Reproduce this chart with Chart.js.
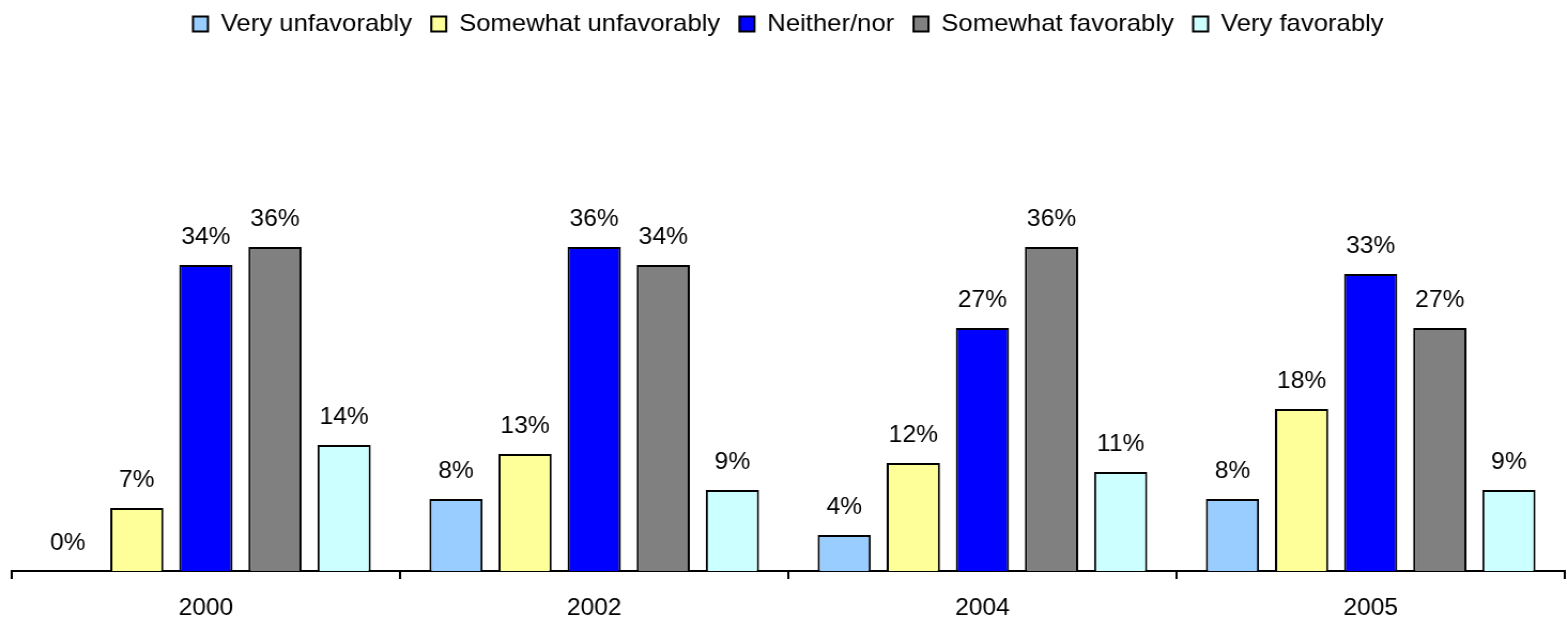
<!DOCTYPE html>
<html>
<head>
<meta charset="utf-8">
<script src="https://cdn.jsdelivr.net/npm/chart.js@4"></script>
<style>
  html, body { margin: 0; padding: 0; background: #fff; overflow: hidden; }
  /* the original chart is a bit wider than tall text would suggest, so stretch it sideways */
  #wrap { width: 1465px; height: 619px; position: relative; transform: scaleX(1.0696); transform-origin: 0 0; }
</style>
</head>
<body>
<div id="wrap"><canvas id="chart"></canvas></div>
<script>
const years = ['2000', '2002', '2004', '2005'];

const veryUnfavorably = [0, 8, 4, 8];
const somewhatUnfavorably = [7, 13, 12, 18];
const neitherNor = [34, 36, 27, 33];
const somewhatFavorably = [36, 34, 36, 27];
const veryFavorably = [14, 9, 11, 9];

const seriesNames = ['Very unfavorably', 'Somewhat unfavorably', 'Neither/nor', 'Somewhat favorably', 'Very favorably'];
const seriesColors = ['#99CCFF', '#FFFF99', '#0000FF', '#808080', '#CCFFFF'];

const FONT = '"Liberation Sans", Arial, sans-serif';

// push the plot area down below the legend
const legendSpace = {
  id: 'legendSpace',
  beforeInit(chart) {
    const fit = chart.legend.fit;
    chart.legend.fit = function () {
      fit.bind(chart.legend)();
      this.height = 217;
    };
  }
};

// value labels above each bar
const valueLabels = {
  id: 'valueLabels',
  afterDatasetsDraw(chart) {
    const ctx = chart.ctx;
    ctx.save();
    ctx.font = '23px ' + FONT;
    ctx.fillStyle = '#000';
    ctx.textAlign = 'center';
    ctx.textBaseline = 'alphabetic';
    chart.data.datasets.forEach((ds, i) => {
      chart.getDatasetMeta(i).data.forEach((bar, j) => {
        ctx.fillText(ds.data[j] + '%', bar.x, bar.y - 21);
      });
    });
    ctx.restore();
  }
};

const allSeries = [veryUnfavorably, somewhatUnfavorably, neitherNor, somewhatFavorably, veryFavorably];

new Chart(document.getElementById('chart'), {
  type: 'bar',
  data: {
    labels: years,
    datasets: allSeries.map((vals, i) => ({
      label: seriesNames[i],
      data: vals,
      backgroundColor: seriesColors[i],
      borderColor: '#000',
      borderWidth: 2,
      borderSkipped: 'bottom',
      categoryPercentage: 0.89,
      barPercentage: 0.77
    }))
  },
  options: {
    responsive: true,
    maintainAspectRatio: false,
    animation: false,
    layout: { padding: { left: 11, right: 2, top: -6, bottom: 0 } },
    plugins: {
      legend: {
        display: true,
        position: 'top',
        labels: {
          boxWidth: 14,
          boxHeight: 15,
          padding: 18,
          color: '#000',
          font: { family: FONT, size: 24 }
        }
      },
      tooltip: { enabled: false },
      title: { display: false }
    },
    scales: {
      y: {
        display: false,
        min: 0,
        max: 40
      },
      x: {
        afterFit(scale) { scale.height = 48; },
        grid: {
          display: true,
          offset: true,
          drawOnChartArea: false,
          drawTicks: true,
          tickLength: 8,
          color: '#000',
          lineWidth: 2
        },
        border: { display: true, color: '#000', width: 2 },
        ticks: {
          color: '#000',
          padding: 16,
          font: { family: FONT, size: 23 }
        }
      }
    }
  },
  plugins: [legendSpace, valueLabels]
});
</script>
</body>
</html>
